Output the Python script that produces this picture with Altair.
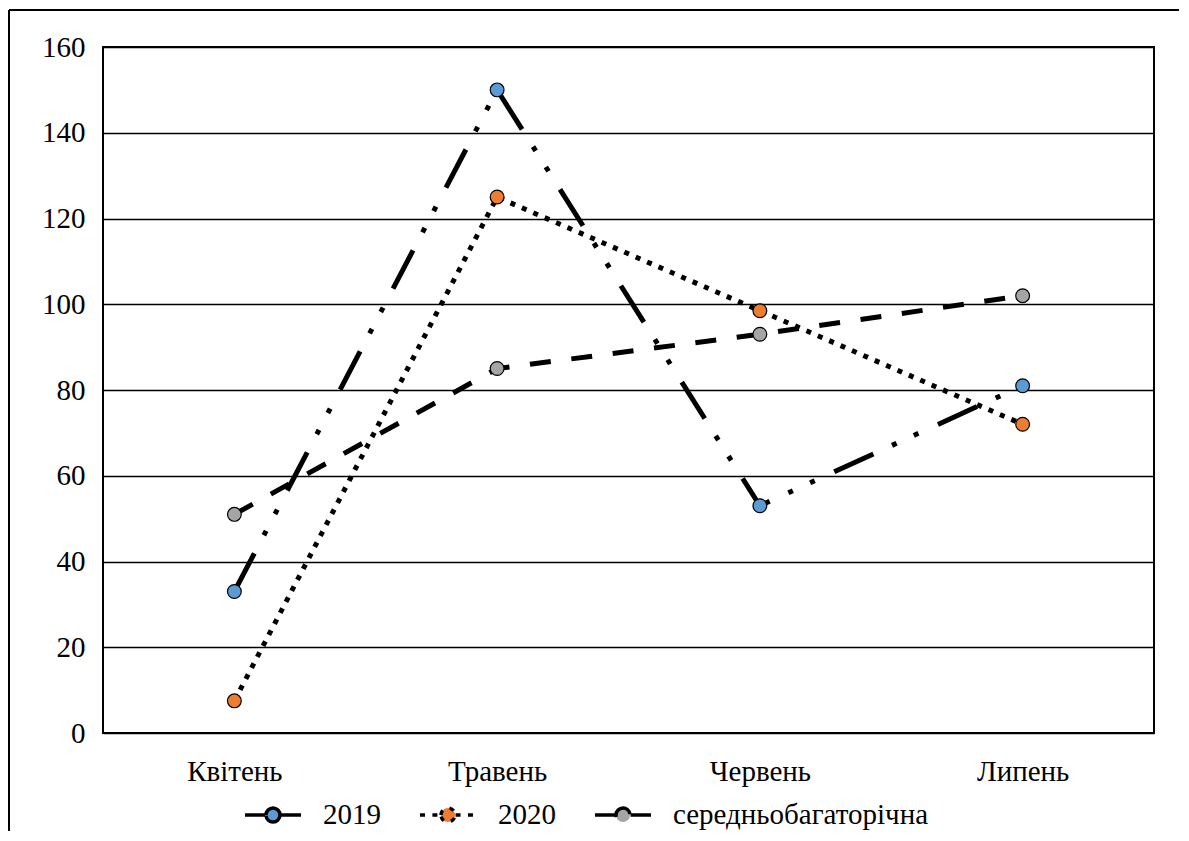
import altair as alt
import pandas as pd

months = ["Квітень", "Травень", "Червень", "Липень"]
series = ["2019", "2020", "середньобагаторічна"]
v2019 = [33, 150, 53, 81]
v2020 = [7.5, 125, 98.5, 72]
v_mean = [51, 85, 93, 102]
y_ticks = [0, 20, 40, 60, 80, 100, 120, 140, 160]

fills = ["#5B9BD5", "#ED7D31", "#A5A5A5"]
dashes = [[43, 20.5, 5, 19, 5, 21.5], [5, 7.4], [21, 20.7]]

rows = []
for s, vals in zip(series, [v2019, v2020, v_mean]):
    for m, v in zip(months, vals):
        rows.append({"month": m, "series": s, "value": v})
df = pd.DataFrame(rows)

FONT = "Liberation Serif, Times New Roman, serif"
FS = 29
W, H = 1051, 686

sym_path = "M-1,0H-0.27M0.27,0H1M-0.25,0A0.25,0.25,0,1,1,0.25,0A0.25,0.25,0,1,1,-0.25,0Z"

legend = alt.Legend(
    title=None,
    orient="none",
    direction="horizontal",
    legendX=140,
    legendY=738,
    symbolType=sym_path,
    symbolSize=3136,
    symbolStrokeWidth=3.5,
    symbolStrokeColor="black",
    labelFont=FONT,
    labelFontSize=FS,
    labelColor="black",
    labelOffset=20,
    labelLimit=600,
    columnPadding=32,
    padding=0,
)

x_enc = alt.X(
    "month:N",
    sort=months,
    scale=alt.Scale(type="point", padding=0.5),
    axis=alt.Axis(
        title=None, labelFont=FONT, labelFontSize=FS, labelColor="black",
        labelPadding=24, ticks=False, domain=False, labelAngle=0,
    ),
)
y_enc = alt.Y(
    "value:Q",
    scale=alt.Scale(domain=[0, 160], nice=False),
    axis=alt.Axis(
        title=None, values=y_ticks, labelFont=FONT, labelFontSize=FS,
        labelColor="black", labelPadding=18, ticks=False, domain=False,
        grid=True, gridColor="black", gridWidth=1.6, gridOpacity=1,
    ),
)

base = alt.Chart(df)

lines = base.mark_line(color="black", strokeWidth=5).encode(
    x=x_enc,
    y=y_enc,
    strokeDash=alt.StrokeDash(
        "series:N",
        scale=alt.Scale(domain=series, range=dashes),
        legend=legend,
    ),
)

points = base.mark_circle(size=190, stroke="black", strokeWidth=1.2, opacity=1).encode(
    x=x_enc,
    y=y_enc,
    fill=alt.Fill(
        "series:N",
        scale=alt.Scale(domain=series, range=fills),
        legend=legend,
    ),
)

plot_box = alt.Chart(df).mark_rect(fillOpacity=0, stroke="black", strokeWidth=1.6).encode(
    x=alt.value(0), x2=alt.value(W), y=alt.value(0), y2=alt.value(H)
)
frame_top = alt.Chart(df).mark_rule(color="black", strokeWidth=1.5).encode(
    x=alt.value(-94), x2=alt.value(1080), y=alt.value(-37)
)
frame_left = alt.Chart(df).mark_rule(color="black", strokeWidth=1.5).encode(
    x=alt.value(-94), y=alt.value(-37), y2=alt.value(790)
)

chart = (
    alt.layer(frame_top, frame_left, plot_box, lines, points)
    .properties(
        width=W,
        height=H,
        autosize=alt.AutoSizeParams(type="none"),
        padding={"left": 95, "top": 39, "right": 25, "bottom": 98},
        background="white",
    )
    .configure_view(stroke="black", strokeWidth=1.6)
)

chart.save("out.html", embed_options={"renderer": "svg", "actions": False})
